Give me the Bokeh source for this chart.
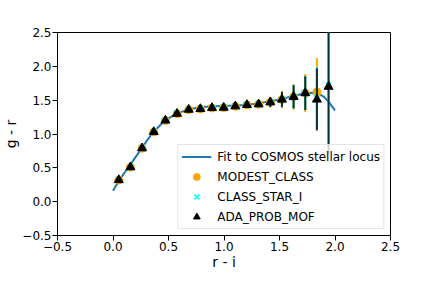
from bokeh.plotting import figure
from bokeh.models import ColumnDataSource, FixedTicker, Legend, LegendItem, Range1d
from bokeh.embed import file_html
from bokeh.resources import INLINE

# ---- data ----
fit_x = [0.0, 0.05, 0.1, 0.15, 0.2, 0.25, 0.3, 0.35, 0.4, 0.45, 0.5, 0.55, 0.6, 0.7, 0.8, 0.9,
         1.0, 1.1, 1.2, 1.3, 1.4, 1.5, 1.6, 1.7, 1.75, 1.8, 1.85, 1.9, 1.95, 2.0]
fit_y = [0.16, 0.30, 0.42, 0.53, 0.65, 0.77, 0.89, 1.00, 1.09, 1.17, 1.23, 1.28, 1.32, 1.37, 1.40, 1.41,
         1.415, 1.42, 1.43, 1.45, 1.48, 1.51, 1.55, 1.59, 1.605, 1.61, 1.60, 1.55, 1.46, 1.35]

bin_x = [0.052, 0.157, 0.262, 0.367, 0.472, 0.577, 0.682, 0.787, 0.892, 0.997,
         1.102, 1.207, 1.312, 1.417, 1.522, 1.627, 1.732, 1.837, 1.942]

modest_y = [0.32, 0.51, 0.79, 1.03, 1.20, 1.30, 1.36, 1.37, 1.385, 1.39,
            1.41, 1.43, 1.44, 1.47, 1.51, 1.55, 1.605, 1.62]
modest_err = [0.01, 0.01, 0.01, 0.01, 0.01, 0.01, 0.01, 0.01, 0.01, 0.01,
              0.02, 0.03, 0.05, 0.08, 0.13, 0.19, 0.28, 0.50]

star_y = [0.32, 0.51, 0.79, 1.03, 1.20, 1.30, 1.36, 1.37, 1.385, 1.39,
          1.41, 1.43, 1.44, 1.47, 1.51, 1.55, 1.605, 1.53, 1.72]
star_err = [0.01, 0.01, 0.01, 0.01, 0.01, 0.01, 0.01, 0.01, 0.01, 0.01,
            0.02, 0.02, 0.04, 0.07, 0.11, 0.17, 0.25, 0.46, 1.0]

ada_y = [0.32, 0.51, 0.79, 1.03, 1.20, 1.30, 1.36, 1.37, 1.385, 1.39,
         1.41, 1.43, 1.44, 1.47, 1.51, 1.55, 1.605, 1.51, 1.70]
ada_err = [0.01, 0.01, 0.01, 0.01, 0.01, 0.01, 0.01, 0.01, 0.01, 0.01,
           0.02, 0.02, 0.04, 0.07, 0.11, 0.17, 0.25, 0.46, 1.0]

x_ticks = [-0.5, 0.0, 0.5, 1.0, 1.5, 2.0, 2.5]
y_ticks = [-0.5, 0.0, 0.5, 1.0, 1.5, 2.0, 2.5]

labels = {
    "fit": "Fit to COSMOS stellar locus",
    "modest": "MODEST_CLASS",
    "star": "CLASS_STAR_I",
    "ada": "ADA_PROB_MOF",
}


def src(xs, ys, es):
    n = len(ys)
    xs = xs[:n]
    return ColumnDataSource(dict(
        x=xs, y=ys,
        lo=[y - e for y, e in zip(ys, es)],
        hi=[y + e for y, e in zip(ys, es)],
    ))


FONT = "DejaVu Sans"

p = figure(width=416, height=272, output_backend="svg", toolbar_location=None,
           x_range=Range1d(-0.5, 2.5), y_range=Range1d(-0.5, 2.5),
           min_border_left=40, min_border_right=26, min_border_top=32, min_border_bottom=0)
p.background_fill_color = "white"
p.border_fill_color = "white"
p.outline_line_color = "black"
p.outline_line_width = 1
p.xgrid.visible = False
p.ygrid.visible = False

for ax, ticks in ((p.xaxis[0], x_ticks), (p.yaxis[0], y_ticks)):
    ax.ticker = FixedTicker(ticks=ticks)
    ax.major_label_overrides = {t: ("%.1f" % t).replace("-", "\u2212") for t in ticks}
    ax.minor_tick_line_color = None
    ax.major_tick_in = 0
    ax.major_tick_out = 5
    ax.major_tick_line_color = "black"
    ax.axis_line_color = "black"
    ax.major_label_text_font = FONT
    ax.major_label_text_font_size = "12px"
    ax.major_label_text_color = "black"
    ax.major_label_standoff = 1
    ax.axis_label_text_font = FONT
    ax.axis_label_text_font_size = "14px"
    ax.axis_label_text_font_style = "normal"
    ax.axis_label_text_color = "black"
    ax.axis_label_standoff = 0

p.xaxis.axis_label = "r - i"
p.yaxis.axis_label = "g - r"

fit_r = p.line(fit_x, fit_y, line_color="#1f77b4", line_width=2)

s_mod = src(bin_x, modest_y, modest_err)
p.segment(x0="x", y0="lo", x1="x", y1="hi", source=s_mod, line_color="orange", line_width=2)
mod_r = p.scatter("x", "y", source=s_mod, marker="circle", size=8,
                  fill_color="orange", line_color="orange")

s_star = src(bin_x, star_y, star_err)
p.segment(x0="x", y0="lo", x1="x", y1="hi", source=s_star, line_color="cyan", line_width=2)
star_r = p.scatter("x", "y", source=s_star, marker="x", size=8,
                   line_color="cyan", line_width=1.5)

s_ada = src(bin_x, ada_y, ada_err)
p.segment(x0="x", y0="lo", x1="x", y1="hi", source=s_ada, line_color="black",
          line_alpha=0.8, line_width=2)
ada_r = p.scatter("x", "y", source=s_ada, marker="triangle", size=9,
                  fill_color="black", line_color="black")

legend = Legend(items=[
    LegendItem(label=labels["fit"], renderers=[fit_r]),
    LegendItem(label=labels["modest"], renderers=[mod_r]),
    LegendItem(label=labels["star"], renderers=[star_r]),
    LegendItem(label=labels["ada"], renderers=[ada_r]),
], location="bottom_right")
legend.label_text_font = FONT
legend.label_text_font_size = "12px"
legend.label_text_color = "black"
legend.glyph_width = 30
legend.glyph_height = 17
legend.label_height = 17
legend.label_standoff = 6
legend.spacing = 3
legend.padding = 3
legend.margin = 6
legend.border_line_color = "#cccccc"
legend.border_line_width = 1
legend.background_fill_alpha = 0.8
p.add_layout(legend)

open("out.html", "w").write(file_html(p, INLINE))
